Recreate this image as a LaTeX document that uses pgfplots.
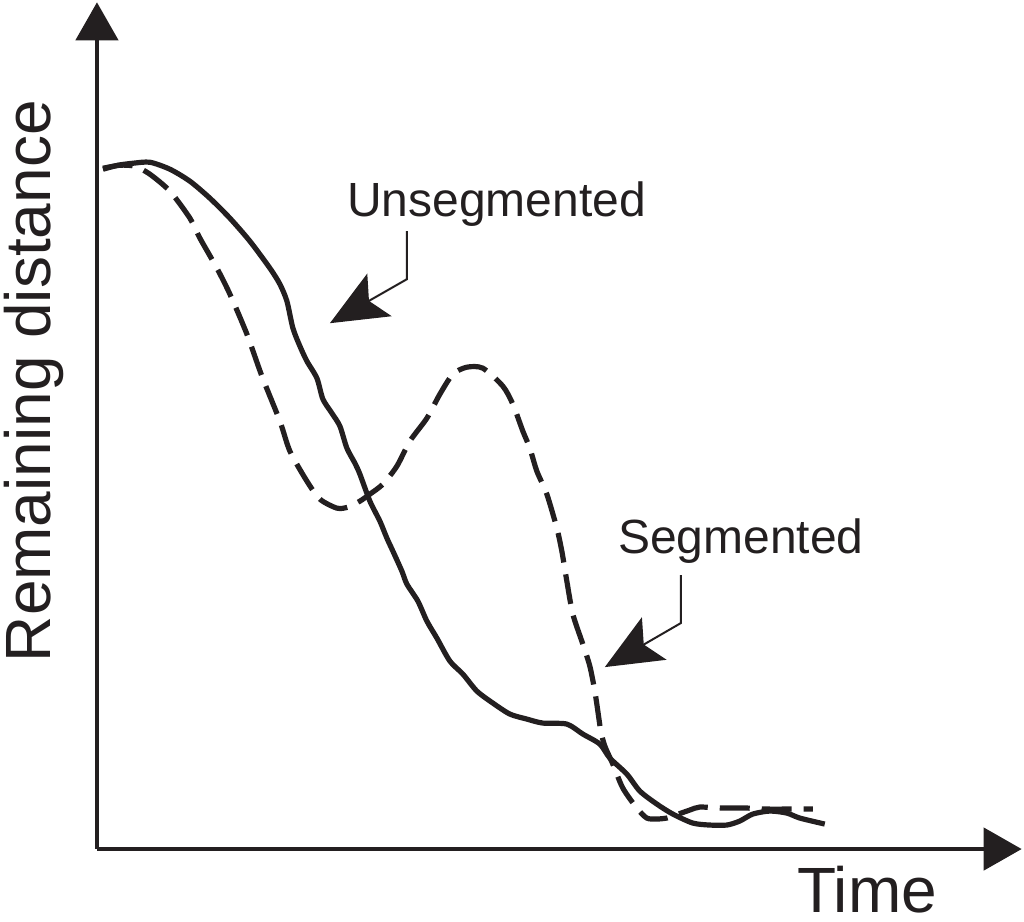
\documentclass[border=0pt]{standalone}
\usepackage{fontspec}
\setmainfont{Liberation Sans}
\usepackage{pgfplots}
\pgfplotsset{compat=1.18}
\usetikzlibrary{arrows.meta}
\definecolor{ink}{HTML}{231F20}
\begin{document}
\begin{tikzpicture}
\begin{axis}[
  scale only axis,
  width=462.5pt, height=423.5pt,
  xmin=97, xmax=1022, ymin=72, ymax=919,
  axis lines*=left,
  axis line style={line width=2.3pt, draw=ink, -{Triangle[length=19pt,width=21pt]}},
  xtick=\empty, ytick=\empty,
  clip=false,
]
\path (axis cs:0,0) rectangle (axis cs:1024,920);
% Unsegmented (solid)
\addplot[ink, line width=2.6pt, smooth, tension=0.45] coordinates {
(103,752) (118,756) (133,758) (150,759) (170,752) (190,740) (210,723) (230,703)
(250,680) (270,653) (280,637) (287,620) (293,593) (300,575) (307,560) (317,543)
(323,522) (332,508) (340,495) (347,473) (355,458) (360,447) (370,420) (380,400)
(387,383) (393,370) (402,350) (407,337) (418,320) (427,300) (437,283) (450,260)
(463,247) (477,230) (493,218) (510,207) (527,202) (543,198) (567,197) (583,187)
(600,177) (610,163) (627,147) (640,130) (657,117) (673,107) (693,98) (710,96)
(727,96) (740,100) (753,107) (770,110) (787,108) (800,103) (825,97)
};
% Segmented (dashed)
\addplot[ink, line width=2.6pt, smooth, tension=0.45, dash pattern=on 15pt off 6pt] coordinates {
(103,753) (120,756) (135,755) (150,747) (170,730) (190,703) (200,683) (217,653)
(230,627) (247,587) (262,545) (280,500) (290,470) (307,440) (320,422) (337,413)
(348,414) (360,420) (370,427) (383,437) (397,455) (410,480) (427,503) (440,527)
(453,547) (467,554) (483,553) (503,535) (513,517) (523,490) (530,473) (537,450)
(547,427) (557,393) (562,370) (567,340) (573,307) (583,277) (590,255) (595,230)
(598,210) (601,190) (605,175) (613,157) (623,133) (637,113) (647,103) (657,102)
(667,103) (673,105) (690,111) (700,114) (720,113) (747,113) (767,112) (793,112)
(813,112)
};
% annotations
\draw[ink, line width=1pt, -{Stealth[length=28.5pt,width=24.5pt,inset=6pt]}]
  (axis cs:407,690) -- (axis cs:407,642) -- (axis cs:330,598);
\draw[ink, line width=1pt, -{Stealth[length=28.5pt,width=24.5pt,inset=6pt]}]
  (axis cs:681,346) -- (axis cs:681,298) -- (axis cs:605,254);
\node[anchor=base west, inner sep=0pt, text=ink, font=\fontsize{24}{28}\selectfont] at (axis cs:347,705) {Unsegmented};
\node[anchor=base west, inner sep=0pt, text=ink, font=\fontsize{24}{28}\selectfont] at (axis cs:618,368) {Segmented};
\node[anchor=base west, inner sep=0pt, text=ink, font=\fontsize{32}{36}\selectfont] at (axis cs:797,9) {Time};
\node[anchor=base, rotate=90, inner sep=0pt, text=ink, font=\fontsize{32}{36}\selectfont] at (axis cs:51,540) {Remaining distance};
\end{axis}
\end{tikzpicture}
\end{document}
